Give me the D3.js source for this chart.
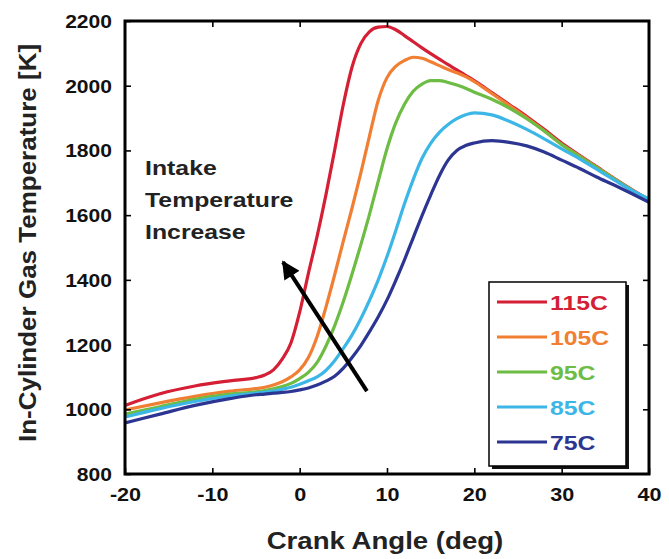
<!DOCTYPE html>
<html>
<head>
<meta charset="utf-8">
<script src="https://cdnjs.cloudflare.com/ajax/libs/d3/7.8.5/d3.min.js"></script>
<style>
    body { margin: 0; background: #fff; }
    #chart text { font-family: "Liberation Sans", Arial, sans-serif; font-weight: bold; }
</style>
</head>
<body>
<div id="chart"></div>
<script>
// crank angle samples (deg) shared by every curve
const crankAngle = [-20, -16, -12, -8, -5, -4, -3, -2, -1, 0, 1, 2, 3, 4, 5, 6, 7, 8, 9, 10,
    11, 12, 13, 14, 15, 16, 17, 18, 19, 20, 22, 24, 26, 28, 30, 32, 34, 36, 38, 40];

// in-cylinder gas temperature [K], one array per intake temperature
const temp115 = [1012, 1048, 1072, 1088, 1098, 1106, 1122, 1155, 1205, 1300, 1420, 1535, 1662, 1800, 1942, 2058,
    2130, 2167, 2181, 2183, 2173, 2155, 2136, 2117, 2099, 2082, 2065, 2049, 2032, 2016, 1979, 1942,
    1905, 1865, 1823, 1786, 1750, 1714, 1680, 1648];
const temp105 = [998, 1020, 1040, 1056, 1064, 1068, 1075, 1085, 1100, 1122, 1160, 1225, 1315, 1415, 1520, 1622,
    1730, 1845, 1955, 2025, 2060, 2078, 2088, 2085, 2074, 2062, 2050, 2040, 2028, 2013, 1976, 1939,
    1901, 1861, 1819, 1783, 1748, 1712, 1678, 1646];
const temp95 = [985, 1008, 1031, 1047, 1054, 1058, 1063, 1070, 1080, 1095, 1114, 1145, 1195, 1258, 1333, 1418,
    1508, 1603, 1705, 1805, 1885, 1943, 1983, 2005, 2016, 2016, 2010, 2002, 1992, 1980, 1958, 1931,
    1898, 1860, 1818, 1782, 1748, 1712, 1678, 1645];
const temp85 = [976, 1002, 1024, 1041, 1050, 1053, 1056, 1062, 1068, 1077, 1088, 1100, 1120, 1150, 1188, 1230,
    1280, 1337, 1400, 1472, 1552, 1635, 1710, 1775, 1822, 1856, 1880, 1898, 1910, 1916, 1910, 1890,
    1865, 1836, 1805, 1775, 1742, 1709, 1677, 1650];
const temp75 = [958, 985, 1012, 1033, 1045, 1047, 1050, 1052, 1055, 1060, 1066, 1075, 1087, 1102, 1127, 1160,
    1197, 1240, 1286, 1338, 1398, 1462, 1530, 1598, 1662, 1722, 1770, 1800, 1815, 1823, 1830, 1825,
    1814, 1795, 1770, 1745, 1718, 1693, 1667, 1640];

const seriesNames = ["115C", "105C", "95C", "85C", "75C"];
const seriesColors = ["#d41f35", "#f07f33", "#6dbc43", "#3cb6e6", "#2c3591"];
const xTicks = [-20, -10, 0, 10, 20, 30, 40];
const yTicks = [800, 1000, 1200, 1400, 1600, 1800, 2000, 2200];
const noteLines = ["Intake", "Temperature", "Increase"];

/** Class drawing the gas temperature vs crank angle chart. */
class GasTemperatureChart {

    constructor() {
        this.margin = {top: 21, right: 20, bottom: 85, left: 125};
        this.width = 669;
        this.height = 559;
        this.plotW = this.width - this.margin.left - this.margin.right;
        this.plotH = this.height - this.margin.top - this.margin.bottom;

        this.svg = d3.select("#chart").append("svg")
            .attr("width", this.width)
            .attr("height", this.height);
        this.g = this.svg.append("g")
            .attr("transform", "translate(" + this.margin.left + "," + this.margin.top + ")");

        this.xScale = d3.scaleLinear().domain([-20, 40]).range([0, this.plotW]);
        this.yScale = d3.scaleLinear().domain([800, 2200]).range([this.plotH, 0]);
    }

    // the original figure has wide lettering, so text is stretched a bit
    stretch(sel, k) {
        sel.each(function () {
            let w = this.getComputedTextLength();
            d3.select(this).attr("textLength", w * k).attr("lengthAdjust", "spacingAndGlyphs");
        });
    }

    update(series) {
        let x = this.xScale, y = this.yScale;

        this.g.append("clipPath").attr("id", "plot-clip")
            .append("rect").attr("width", this.plotW).attr("height", this.plotH);

        // curves
        let line = d3.line()
            .x(d => x(d[0]))
            .y(d => y(d[1]))
            .curve(d3.curveMonotoneX);

        this.g.append("g").attr("clip-path", "url(#plot-clip)")
            .selectAll("path")
            .data(series)
            .enter().append("path")
            .attr("d", d => line(crankAngle.map((a, i) => [a, d.values[i]])))
            .attr("fill", "none")
            .attr("stroke", d => d.color)
            .attr("stroke-width", 3.2)
            .attr("stroke-linejoin", "round");

        // axes with inward ticks
        let fmt = d => String(d);
        let left = this.g.append("g")
            .call(d3.axisLeft(y).tickValues(yTicks).tickSize(-6).tickPadding(13).tickFormat(fmt));
        let bottom = this.g.append("g")
            .attr("transform", "translate(0," + this.plotH + ")")
            .call(d3.axisBottom(x).tickValues(xTicks).tickSize(-6).tickPadding(14).tickFormat(fmt));
        this.g.append("g")
            .call(d3.axisTop(x).tickValues(xTicks.slice(1, -1)).tickSize(-6).tickFormat(""));
        this.g.append("g")
            .attr("transform", "translate(" + this.plotW + ",0)")
            .call(d3.axisRight(y).tickValues(yTicks.slice(1, -1)).tickSize(-6).tickFormat(""));

        this.g.selectAll(".domain").remove();
        this.g.selectAll(".tick line").attr("stroke", "#000").attr("stroke-width", 1.6);
        this.g.selectAll(".tick text").attr("font-size", 18).attr("fill", "#111");
        left.selectAll(".tick text").attr("dy", "0.36em");
        this.stretch(left.selectAll(".tick text"), 1.17);
        this.stretch(bottom.selectAll(".tick text"), 1.2);

        // frame
        this.g.append("rect")
            .attr("width", this.plotW)
            .attr("height", this.plotH)
            .attr("fill", "none")
            .attr("stroke", "#000")
            .attr("stroke-width", 3);

        // axis titles
        let xt = this.svg.append("text")
            .attr("x", this.margin.left + this.plotW / 2 - 2)
            .attr("y", 549)
            .attr("text-anchor", "middle")
            .attr("font-size", 23)
            .attr("fill", "#222")
            .text("Crank Angle (deg)");
        this.stretch(xt, 1.2);

        let yt = this.svg.append("text")
            .attr("transform", "translate(36,243) rotate(-90)")
            .attr("text-anchor", "middle")
            .attr("font-size", 23)
            .attr("fill", "#222")
            .text("In-Cylinder Gas Temperature [K]");
        this.stretch(yt, 1.13);

        // annotation and arrow
        let note = this.g.append("g");
        note.selectAll("text")
            .data(noteLines)
            .enter().append("text")
            .attr("x", x(-17.7))
            .attr("y", (d, i) => y(1724) + i * 32)
            .attr("font-size", 21)
            .attr("fill", "#222")
            .text(d => d);
        this.stretch(note.selectAll("text"), 1.18);

        this.svg.append("defs").append("marker")
            .attr("id", "arrow-head")
            .attr("viewBox", "0 0 10 10")
            .attr("refX", 9).attr("refY", 5)
            .attr("markerWidth", 5.5).attr("markerHeight", 4.5)
            .attr("orient", "auto")
            .append("path").attr("d", "M0,0 L10,5 L0,10 Z").attr("fill", "#000");

        this.g.append("line")
            .attr("x1", x(7.7)).attr("y1", y(1056))
            .attr("x2", x(-1.9)).attr("y2", y(1455))
            .attr("stroke", "#000")
            .attr("stroke-width", 4)
            .attr("marker-end", "url(#arrow-head)");

        // legend
        let lg = this.svg.append("g").attr("transform", "translate(489,282)");
        lg.append("rect").attr("x", 3).attr("y", 3).attr("width", 137).attr("height", 184).attr("fill", "#111");
        lg.append("rect").attr("width", 137).attr("height", 184)
            .attr("fill", "#fff").attr("stroke", "#000").attr("stroke-width", 1.5);

        let rows = lg.selectAll(".row")
            .data(series)
            .enter().append("g")
            .attr("class", "row")
            .attr("transform", (d, i) => "translate(0," + (20 + i * 35) + ")");
        rows.append("line")
            .attr("x1", 8).attr("x2", 58)
            .attr("stroke", d => d.color)
            .attr("stroke-width", 3);
        let labels = rows.append("text")
            .attr("x", 61)
            .attr("dy", "0.36em")
            .attr("font-size", 21)
            .attr("fill", d => d.color)
            .text(d => d.name);
        this.stretch(labels, 1.18);
    }
}

let series = [temp115, temp105, temp95, temp85, temp75].map((v, i) => ({
    name: seriesNames[i],
    color: seriesColors[i],
    values: v
}));

let chart = new GasTemperatureChart();
chart.update(series);
</script>
</body>
</html>
